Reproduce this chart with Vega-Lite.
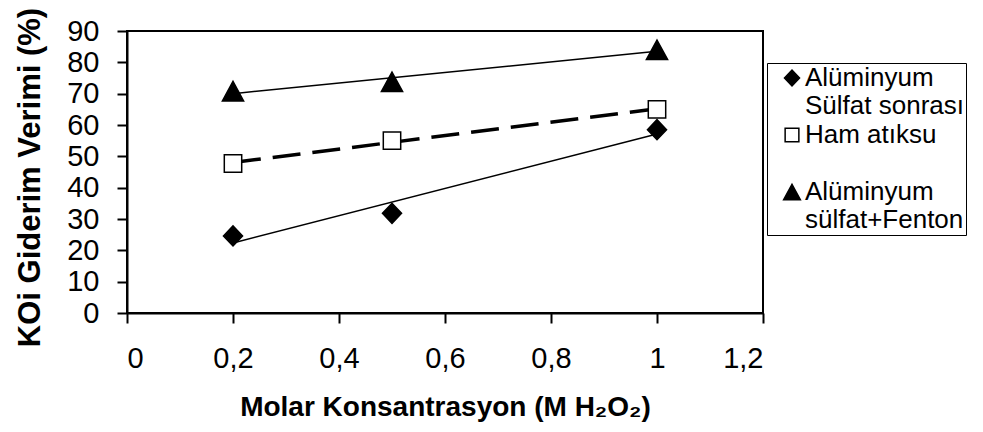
{
  "$schema": "https://vega.github.io/schema/vega-lite/v6.json",
  "width": 636,
  "height": 282,
  "autosize": {"type": "none"},
  "padding": {"left": 127, "top": 31, "right": 220, "bottom": 119},
  "background": "white",
  "config": {
    "view": {"stroke": "black", "strokeWidth": 2},
    "font": "Liberation Sans",
    "axis": {
      "grid": false,
      "domainColor": "black",
      "domainWidth": 2,
      "tickColor": "black",
      "tickWidth": 2,
      "tickSize": 10,
      "labelFont": "Liberation Sans",
      "labelFontSize": 29,
      "labelColor": "black",
      "titleFont": "Liberation Sans",
      "titleFontWeight": "bold",
      "titleColor": "black"
    }
  },
  "data": {
    "values": [
      {"series": "Alüminyum Sülfat sonrası", "x": 0.2, "y": 24.6},
      {"series": "Alüminyum Sülfat sonrası", "x": 0.5, "y": 31.8},
      {"series": "Alüminyum Sülfat sonrası", "x": 1.0, "y": 58.5},
      {"series": "Ham atıksu", "x": 0.2, "y": 47.7},
      {"series": "Ham atıksu", "x": 0.5, "y": 55.0},
      {"series": "Ham atıksu", "x": 1.0, "y": 65.0},
      {"series": "Alüminyum sülfat+Fenton", "x": 0.2, "y": 70.8},
      {"series": "Alüminyum sülfat+Fenton", "x": 0.5, "y": 73.8},
      {"series": "Alüminyum sülfat+Fenton", "x": 1.0, "y": 84.0}
    ]
  },
  "encoding": {
    "x": {
      "field": "x",
      "type": "quantitative",
      "scale": {"domain": [0, 1.2], "nice": false, "zero": false},
      "axis": {
        "values": [0, 0.2, 0.4, 0.6, 0.8, 1, 1.2],
        "labelExpr": "replace(format(datum.value, '.1~f'), '.', ',')",
        "labelPadding": 21,
        "title": "Molar Konsantrasyon (M H₂O₂)",
        "titleFontSize": 28,
        "titlePadding": 20
      }
    },
    "y": {
      "field": "y",
      "type": "quantitative",
      "scale": {"domain": [0, 90], "nice": false},
      "axis": {
        "values": [0, 10, 20, 30, 40, 50, 60, 70, 80, 90],
        "labelPadding": 18,
        "title": "KOi Giderim Verimi (%)",
        "titleFontSize": 31,
        "titlePadding": 20,
        "titleY": 146
      }
    }
  },
  "layer": [
    {
      "transform": [
        {"filter": "datum.series != 'Ham atıksu'"},
        {"regression": "y", "on": "x", "groupby": ["series"]}
      ],
      "mark": {"type": "line", "color": "black", "strokeWidth": 1.5},
      "encoding": {"detail": {"field": "series", "type": "nominal"}}
    },
    {
      "transform": [
        {"filter": "datum.series == 'Ham atıksu'"},
        {"regression": "y", "on": "x", "groupby": ["series"]}
      ],
      "mark": {"type": "line", "color": "black", "strokeWidth": 3.5, "strokeDash": [28, 12]},
      "encoding": {"detail": {"field": "series", "type": "nominal"}}
    },
    {
      "mark": {"type": "point", "filled": true, "stroke": "black", "strokeWidth": 1.5, "opacity": 1, "size": 450},
      "encoding": {
        "shape": {
          "field": "series",
          "type": "nominal",
          "scale": {
            "domain": ["Alüminyum Sülfat sonrası", "Ham atıksu", "Alüminyum sülfat+Fenton"],
            "range": ["M-0.9,0L0,-0.95L0.9,0L0,0.95Z", "M-0.82,-0.82H0.82V0.82H-0.82Z", "M0,-0.92L1,0.92L-1,0.92Z"]
          },
          "legend": {
            "title": null,
            "orient": "none",
            "legendX": 640,
            "legendY": 32,
            "padding": 2,
            "strokeColor": "black",
            "symbolSize": 280,
            "symbolOffset": 10,
            "symbolStrokeWidth": 1.5,
            "labelFont": "Liberation Sans",
            "labelFontSize": 26,
            "labelColor": "black",
            "labelOffset": 0,
            "rowPadding": 3,
            "labelLimit": 400,
            "labelExpr": "datum.label == 'Ham atıksu' ? ['Ham atıksu', ''] : datum.label == 'Alüminyum Sülfat sonrası' ? ['Alüminyum', 'Sülfat sonrası'] : ['Alüminyum', 'sülfat+Fenton']",
            "encode": {
              "symbols": {
                "fill": {"condition": {"test": "datum.value === 'Ham atıksu'", "value": "white"}, "value": "black"},
                "stroke": {"value": "black"},
                "strokeWidth": {"value": 1.5}
              },
              "labels": {"update": {"dy": {"value": 14}, "lineHeight": {"value": 28}}},
              "legend": {"update": {"strokeWidth": {"value": 2}}}
            }
          }
        },
        "fill": {
          "field": "series",
          "type": "nominal",
          "scale": {
            "domain": ["Alüminyum Sülfat sonrası", "Ham atıksu", "Alüminyum sülfat+Fenton"],
            "range": ["black", "white", "black"]
          },
          "legend": null
        }
      }
    }
  ]
}
